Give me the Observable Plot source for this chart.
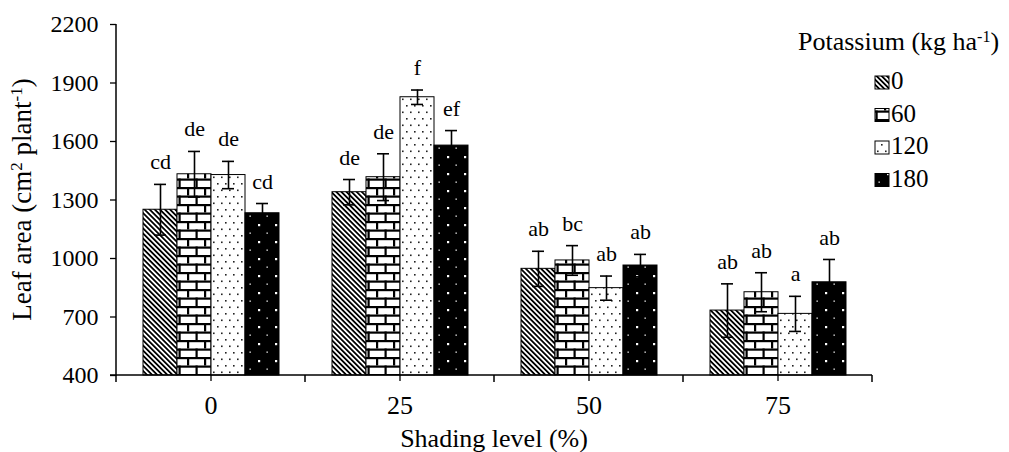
<!DOCTYPE html>
<html>
<head>
<meta charset="utf-8">
<script src="https://cdn.jsdelivr.net/npm/d3@7"></script>
<script src="https://cdn.jsdelivr.net/npm/@observablehq/plot@0.6"></script>
<style>
  html, body { margin: 0; padding: 0; background: #fff; }
  #chart { width: 1009px; height: 452px; }
</style>
</head>
<body>
<div id="chart"></div>
<script>
// ---- data ----
const shading = [0, 25, 50, 75];          // Shading level (%)
const potassium = [0, 60, 120, 180];      // Potassium (kg ha-1)
const yTicks = [400, 700, 1000, 1300, 1600, 1900, 2200];

// leaf area means per potassium level, across shading levels
const k0   = [1250, 1340, 947, 733];
const k60  = [1432, 1417, 990, 827];
const k120 = [1428, 1827, 848, 716];
const k180 = [1232, 1579, 964, 878];

// error (± half-length of error bars)
const se0   = [130, 65, 90, 137];
const se60  = [117, 120, 76, 100];
const se120 = [70, 37, 62, 90];
const se180 = [50, 77, 57, 117];

// significance letters
const let0   = ["cd", "de", "ab", "ab"];
const let60  = ["de", "de", "bc", "ab"];
const let120 = ["de", "f", "ab", "a"];
const let180 = ["cd", "ef", "ab", "ab"];

const values = [k0, k60, k120, k180];
const errors = [se0, se60, se120, se180];
const letters = [let0, let60, let120, let180];

const rows = [];
shading.forEach((s, i) => potassium.forEach((k, j) => {
  rows.push({s, k, v: values[j][i], se: errors[j][i], lab: letters[j][i]});
}));

// ---- styling ----
const patternOf = {0: "url(#p0)", 60: "url(#p60)", 120: "url(#p120)", 180: "url(#p180)"};
const W = 1009, H = 452, mL = 116, mR = 137, mT = 24, mB = 77;
const FONT = "'Liberation Serif', 'Times New Roman', serif";

const plot = Plot.plot({
  width: W, height: H,
  marginLeft: mL, marginRight: mR, marginTop: mT, marginBottom: mB,
  style: {fontFamily: FONT, fontSize: "22px", color: "black", background: "white", overflow: "visible"},
  fx: {domain: shading, paddingInner: 0, paddingOuter: 0},
  x: {domain: potassium, paddingInner: 0, paddingOuter: 0.739},
  y: {domain: [yTicks[0], yTicks[yTicks.length - 1]]},
  color: {type: "identity"},
  marks: [
    Plot.axisY({ticks: yTicks, tickFormat: d => String(d), tickSize: 6, tickPadding: 12, fontSize: 24, label: null, strokeWidth: 1.3}),
    Plot.axisFx({anchor: "bottom", tickSize: 6, tickPadding: 14, fontSize: 26, label: null, strokeWidth: 1.3}),
    Plot.axisX({ticks: [], label: null}),
    Plot.barY(rows, {fx: "s", x: "k", y1: yTicks[0], y2: "v", fill: d => patternOf[d.k], stroke: "black", strokeWidth: 1}),
    Plot.ruleX(rows, {fx: "s", x: "k", y1: d => d.v - d.se, y2: d => d.v + d.se, stroke: "black", strokeWidth: 1.6}),
    Plot.tickY(rows, {fx: "s", x: "k", y: d => d.v + d.se, insetLeft: 11, insetRight: 11, stroke: "black", strokeWidth: 1.6}),
    Plot.tickY(rows, {fx: "s", x: "k", y: d => d.v - d.se, insetLeft: 11, insetRight: 11, stroke: "black", strokeWidth: 1.6}),
    Plot.text(rows, {fx: "s", x: "k", y: d => d.v + d.se, text: "lab", dy: -22, fontSize: 22, fill: "black"})
  ]
});

document.getElementById("chart").appendChild(plot);

// ---- patterns, axis lines, titles, legend (via library scales) ----
const svg = d3.select(plot);
const defs = svg.insert("defs", ":first-child");
defs.html(`
  <pattern id="p0" patternUnits="userSpaceOnUse" width="3.6" height="3.6" patternTransform="rotate(-45)">
    <rect width="3.6" height="3.6" fill="white"/>
    <rect width="1.8" height="3.6" fill="black"/>
  </pattern>
  <pattern id="p60" patternUnits="userSpaceOnUse" width="17" height="17">
    <rect width="17" height="17" fill="white"/>
    <rect y="0" width="17" height="2.2" fill="black"/>
    <rect y="8.5" width="17" height="2.2" fill="black"/>
    <rect x="0" y="0" width="2.2" height="8.5" fill="black"/>
    <rect x="8.5" y="8.5" width="2.2" height="8.5" fill="black"/>
  </pattern>
  <pattern id="p120" patternUnits="userSpaceOnUse" width="8" height="13">
    <rect width="8" height="13" fill="white"/>
    <rect x="1" y="1" width="1.6" height="1.6" fill="#222"/>
    <rect x="5" y="7.5" width="1.6" height="1.6" fill="#222"/>
  </pattern>
  <pattern id="p180" patternUnits="userSpaceOnUse" width="17" height="17">
    <rect width="17" height="17" fill="black"/>
    <rect x="3" y="3" width="2.2" height="2.2" fill="white"/>
    <rect x="11.5" y="11.5" width="1.3" height="1.3" fill="white"/>
  </pattern>
`);

const ys = plot.scale("y");
const fxs = plot.scale("fx");
const y0 = ys.apply(yTicks[0]), y1 = ys.apply(yTicks[yTicks.length - 1]);
const bounds = shading.map(s => fxs.apply(s));
bounds.push(fxs.apply(shading[shading.length - 1]) + fxs.bandwidth);

const g = svg.append("g").attr("stroke", "black").attr("stroke-width", 1.5);
g.append("line").attr("x1", bounds[0]).attr("x2", bounds[0]).attr("y1", y1).attr("y2", y0 + 0.75);
g.append("line").attr("x1", bounds[0] - 6).attr("x2", bounds[bounds.length - 1]).attr("y1", y0).attr("y2", y0);
bounds.forEach(b => g.append("line").attr("x1", b).attr("x2", b).attr("y1", y0).attr("y2", y0 + 7));

const txt = (sel) => sel.attr("font-family", FONT).attr("fill", "black").attr("stroke", "none");

// axis titles
const yt = txt(svg.append("text"))
  .attr("transform", `translate(31,${(y0 + y1) / 2}) rotate(-90)`)
  .attr("text-anchor", "middle").attr("font-size", 27);
yt.append("tspan").text("Leaf area (cm");
yt.append("tspan").attr("baseline-shift", "super").attr("font-size", 17).text("2");
yt.append("tspan").text(" plant");
yt.append("tspan").attr("baseline-shift", "super").attr("font-size", 17).text("-1");
yt.append("tspan").text(")");

txt(svg.append("text"))
  .attr("x", (bounds[0] + bounds[bounds.length - 1]) / 2).attr("y", 447)
  .attr("text-anchor", "middle").attr("font-size", 26)
  .text("Shading level (%)");

// legend
const lt = txt(svg.append("text")).attr("x", 798).attr("y", 50)
  .attr("text-anchor", "start").attr("font-size", 26);
lt.append("tspan").text("Potassium (kg ha");
lt.append("tspan").attr("baseline-shift", "super").attr("font-size", 16).text("-1");
lt.append("tspan").text(")");

potassium.forEach((k, i) => {
  const base = 89 + i * 32.5;
  svg.append("rect").attr("x", 875).attr("y", base - 13).attr("width", 14).attr("height", 13)
    .attr("fill", patternOf[k]).attr("stroke", "black").attr("stroke-width", 1);
  txt(svg.append("text")).attr("x", 891).attr("y", base)
    .attr("text-anchor", "start").attr("font-size", 25).text(String(k));
});
</script>
</body>
</html>
